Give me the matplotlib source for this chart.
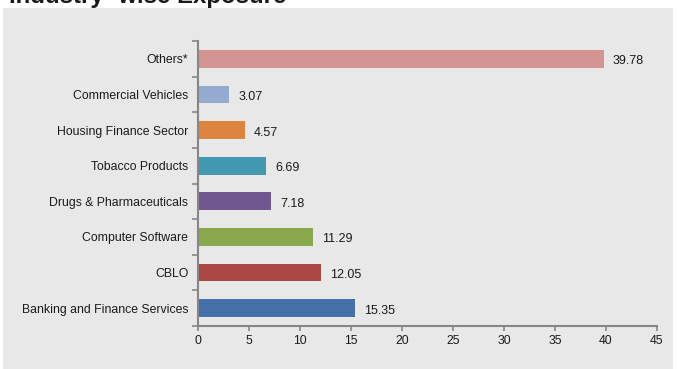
import matplotlib
matplotlib.use("Agg")
import matplotlib.pyplot as plt
from matplotlib.patches import Rectangle
import numpy as np

plt.rcParams['font.family'] = ['Liberation Sans', 'DejaVu Sans']

# Exposure by industry (%), drawn bottom to top
categories = ["Banking and Finance Services", "CBLO", "Computer Software",
              "Drugs & Pharmaceuticals", "Tobacco Products",
              "Housing Finance Sector", "Commercial Vehicles", "Others*"]
values = [15.35, 12.05, 11.29, 7.18, 6.69, 4.57, 3.07, 39.78]
colors = ["#4570a8", "#aa4644", "#8aa84c", "#70578f", "#4299b0",
          "#dd843e", "#95aacf", "#d49494"]
x_ticks = [0, 5, 10, 15, 20, 25, 30, 35, 40, 45]

W, H = 677, 369
fig = plt.figure(figsize=(W / 100, H / 100), dpi=100)
fig.patch.set_facecolor("white")

# grey panel behind the chart
panel = Rectangle((3 / W, 0), (673 - 3) / W, 1 - 8 / H,
                  transform=fig.transFigure, facecolor="#e7e8e7",
                  edgecolor="none", zorder=-5)
fig.patches.append(panel)

fig.text(9 / W, 1 - 3 / H, "Industry -wise Exposure", fontsize=17.3,
         fontweight="bold", color="#1a1a1a", ha="left", va="baseline")

left, right, top, bottom = 198, 657, 41, 326
ax = fig.add_axes([left / W, 1 - bottom / H, (right - left) / W, (bottom - top) / H])
ax.set_facecolor("none")

y = np.arange(len(categories))
ax.barh(y, values, height=0.5, color=colors, zorder=2)
for yi, v in zip(y, values):
    ax.annotate(f"{v:.2f}", (v, yi), xytext=(6.5, -1.8), textcoords="offset points",
                ha="left", va="center", fontsize=9, color="#1a1a1a")

ax.set_xlim(0, 45)
ax.set_ylim(-0.5, len(categories) - 0.5)
ax.set_xticks(x_ticks)
ax.set_xticklabels([str(t) for t in x_ticks])
ax.set_yticks(y)
ax.set_yticklabels(categories)
ax.set_yticks(np.arange(-0.5, len(categories)), minor=True)

for s in ["top", "right"]:
    ax.spines[s].set_visible(False)
for s in ["left", "bottom"]:
    ax.spines[s].set_color("#868686")
    ax.spines[s].set_linewidth(1.5)

ax.tick_params(axis="y", which="major", length=0, pad=7, labelsize=8.8,
               labelcolor="#1a1a1a")
ax.tick_params(axis="y", which="minor", length=4, width=1.2, color="#868686",
               direction="out")
ax.tick_params(axis="x", which="major", length=3.5, width=1.2, color="#868686",
               direction="out", pad=3, labelsize=8.8, labelcolor="#1a1a1a")

fig.savefig("out.png", dpi=100, facecolor=fig.get_facecolor())
